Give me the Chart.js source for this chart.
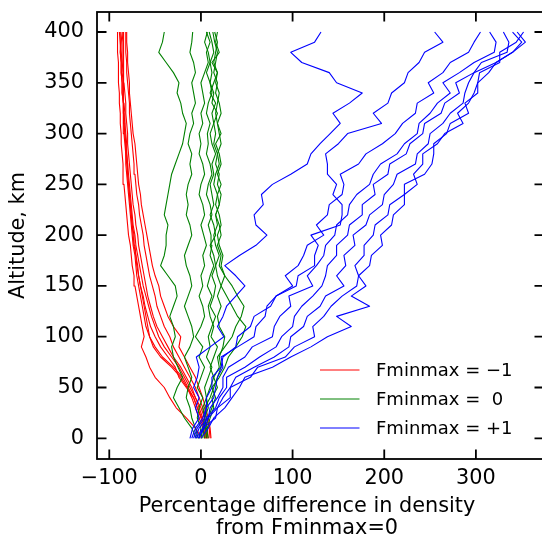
<!DOCTYPE html>
<html lang="en">
<head>
<meta charset="utf-8">
<title>Density difference vs altitude</title>
<script src="https://cdn.jsdelivr.net/npm/chart.js@4.4.0/dist/chart.umd.min.js"></script>
<style>
  body { margin: 0; background: #fff; }
  #wrap { width: 542px; height: 538px; overflow: hidden; }
</style>
</head>
<body>
<div id="wrap"><canvas id="c" width="546" height="538"></canvas></div>
<script>
// altitude levels (km), shared by every run
const altitudes = [0,10,20,30,40,50,60,70,80,90,100,110,120,130,140,150,160,170,180,190,
  200,210,220,230,240,250,260,270,280,290,300,310,320,330,340,350,360,370,380,390,400];

const xTicks = [-100, 0, 100, 200, 300];
const yTicks = [0, 50, 100, 150, 200, 250, 300, 350, 400];

const legendLabels = ['Fminmax = \u22121', 'Fminmax =  0', 'Fminmax = +1'];

// percentage difference in density, one array per run, bottom to top
const runsMinus1 = [
  [1,-6,-16,-27,-34,-40,-50,-56,-60,-65,-62,-64,-66,-68,-70,-72,-73,-75,-76,-77,-79,-80,-81,-82,-83,-84,-85,-85,-86,-87,-87,-88,-88,-89,-89,-90,-90,-90,-91,-91,-91],
  [5,3,0,-4,-8,-14,-20,-30,-42,-50,-56,-60,-62,-64,-66,-68,-70,-71,-72,-74,-75,-76,-77,-78,-79,-80,-81,-82,-82,-83,-84,-84,-85,-85,-86,-86,-87,-87,-88,-88,-89],
  [8,7,4,0,-6,-10,-16,-22,-30,-36,-42,-48,-52,-55,-58,-60,-62,-64,-66,-68,-69,-71,-72,-74,-75,-76,-77,-78,-79,-80,-80,-81,-82,-82,-83,-84,-84,-84,-85,-85,-84],
  [10,9,6,2,-2,-6,-12,-18,-24,-30,-34,-40,-44,-48,-50,-53,-56,-58,-60,-62,-63,-65,-67,-68,-70,-71,-72,-73,-74,-75,-76,-77,-78,-78,-79,-80,-81,-81,-82,-82,-82],
  [11,10,8,5,2,-2,-6,-12,-18,-24,-22,-30,-36,-40,-44,-46,-50,-53,-55,-57,-59,-61,-63,-65,-66,-68,-69,-70,-71,-72,-74,-75,-76,-77,-78,-78,-79,-80,-80,-81,-81],
  [7,5,2,-2,-6,-12,-18,-24,-32,-40,-46,-50,-54,-57,-60,-63,-65,-67,-69,-71,-72,-74,-75,-76,-77,-78,-79,-80,-81,-81,-82,-83,-83,-84,-84,-85,-85,-86,-86,-86,-85],
  [6,4,1,-4,-8,-16,-24,-28,-36,-44,-50,-55,-58,-61,-63,-66,-68,-70,-71,-73,-74,-75,-76,-77,-78,-79,-80,-81,-82,-82,-83,-84,-84,-85,-86,-86,-87,-87,-88,-87,-86],
  [4,2,-2,-6,-10,-15,-22,-32,-44,-52,-56,-58,-60,-62,-64,-66,-68,-69,-71,-72,-73,-75,-76,-77,-78,-79,-80,-80,-81,-82,-83,-83,-84,-84,-85,-85,-86,-86,-87,-88,-88]
];

const runsZero = [
  [-5,-10,-18,-24,-30,-26,-20,-25,-30,-32,-28,-30,-34,-30,-26,-28,-36,-44,-40,-38,-38,-36,-40,-38,-36,-34,-32,-28,-24,-20,-18,-16,-20,-22,-26,-24,-30,-38,-46,-42,-40],
  [-3,-6,-10,-12,-16,-14,-10,-14,-18,-12,-8,-10,-14,-18,-14,-10,-12,-16,-18,-14,-10,-12,-16,-14,-16,-14,-10,-12,-10,-14,-12,-8,-10,-6,-8,-10,-6,-8,-12,-10,-9],
  [-2,0,-4,-2,2,-4,0,4,-2,2,-6,0,4,2,-2,2,0,4,2,6,3,0,4,2,-2,0,4,2,-2,0,-2,2,0,4,2,0,4,8,6,10,6],
  [0,2,4,8,6,10,14,10,14,18,11,14,10,8,12,7,10,14,10,12,11,8,12,10,6,8,12,10,6,8,7,10,6,8,12,10,6,10,8,4,7],
  [2,3,6,4,10,14,18,22,20,24,26,20,18,22,18,22,18,16,20,16,14,18,16,20,18,14,16,20,18,14,16,14,18,12,14,10,12,10,14,12,9],
  [4,5,8,12,16,12,20,26,30,38,45,49,40,34,28,22,26,20,22,18,22,20,16,20,22,18,20,16,18,22,20,18,22,20,16,18,14,16,18,15,13],
  [6,7,10,14,12,18,14,20,18,26,34,38,44,47,40,34,26,22,24,20,18,22,20,16,18,22,18,22,20,16,22,18,16,18,20,16,18,14,16,18,15],
  [8,6,4,2,6,4,8,12,6,10,8,12,16,10,14,16,12,16,14,10,16,14,10,14,12,10,14,12,16,12,10,14,12,16,10,14,18,12,20,16,18]
];

const runsPlus1 = [
  [-12,-9,-2,-6,-2,-8,-4,-2,-5,10,25,18,24,28,38,48,38,26,42,60,72,60,58,68,66,78,98,116,120,130,141,152,144,162,176,148,140,110,98,124,131],
  [-10,-6,2,6,6,12,12,22,24,38,40,54,58,76,82,104,106,124,124,128,120,152,154,154,144,148,138,138,136,150,160,197,188,204,208,222,226,238,244,264,255],
  [-8,-4,4,6,14,16,18,24,22,40,58,60,70,72,82,100,92,106,112,116,134,126,138,140,154,156,152,172,180,198,212,220,234,236,254,248,264,272,292,298,305],
  [-6,-2,8,10,18,24,24,30,48,56,78,80,86,98,96,122,116,126,134,136,146,148,160,162,170,184,188,196,214,222,236,238,250,258,272,264,282,298,320,322,315],
  [-5,2,6,16,20,28,28,48,64,82,88,100,102,110,122,132,136,138,148,148,160,162,176,176,190,188,204,206,224,228,242,244,262,266,282,278,298,306,334,336,330],
  [-3,4,8,18,24,32,38,58,80,96,98,112,116,130,136,156,148,158,156,168,166,180,184,198,200,210,214,234,236,248,250,264,272,286,288,292,298,322,340,354,345],
  [-2,2,16,18,32,32,54,62,92,102,124,122,134,142,154,170,172,168,178,178,188,190,204,206,222,222,244,252,254,254,268,272,292,288,302,302,314,322,340,350,340],
  [0,8,14,26,34,42,48,78,98,120,138,164,148,184,164,180,172,184,186,198,196,208,210,222,222,236,232,242,242,258,266,286,280,292,298,302,304,326,326,344,352]
];

const groupColors = ['#ff0000', '#008000', '#0000ff'];
const FONT = 'DejaVu Sans';

function toPoints(run) {
  return run.map(function (v, i) { return { x: v, y: altitudes[i] }; });
}

const datasets = [];
[runsMinus1, runsZero, runsPlus1].forEach(function (runs, g) {
  runs.forEach(function (run, i) {
    datasets.push({
      label: legendLabels[g],
      data: toPoints(run),
      borderColor: groupColors[g],
      borderWidth: 1.1,
      pointRadius: 0,
      tension: 0,
      fill: false,
      order: 3 - g
    });
  });
});

// frame, inward ticks on all sides, legend and the x axis title
const decorations = {
  id: 'decorations',
  afterDatasetsDraw(chart) {
    const ctx = chart.ctx;
    const a = chart.chartArea;
    const xs = chart.scales.x, ys = chart.scales.y;
    ctx.save();
    ctx.strokeStyle = '#000';
    ctx.lineWidth = 1.8;
    ctx.strokeRect(a.left, a.top, a.right - a.left, a.bottom - a.top);
    const len = 9.5;
    ctx.beginPath();
    xs.ticks.forEach(function (t) {
      const px = xs.getPixelForValue(t.value);
      ctx.moveTo(px, a.bottom); ctx.lineTo(px, a.bottom - len);
      ctx.moveTo(px, a.top); ctx.lineTo(px, a.top + len);
    });
    ys.ticks.forEach(function (t) {
      const py = ys.getPixelForValue(t.value);
      ctx.moveTo(a.left, py); ctx.lineTo(a.left + len, py);
      ctx.moveTo(a.right, py); ctx.lineTo(a.right - len, py);
    });
    ctx.stroke();

    // legend
    ctx.font = '18px "' + FONT + '"';
    ctx.textBaseline = 'middle';
    ctx.textAlign = 'left';
    legendLabels.forEach(function (lab, g) {
      const yy = 370 + g * 29;
      ctx.strokeStyle = groupColors[g];
      ctx.lineWidth = 1;
      ctx.beginPath();
      ctx.moveTo(320, yy); ctx.lineTo(359.5, yy);
      ctx.stroke();
      ctx.fillStyle = '#000';
      ctx.fillText(lab, 376, yy + 1);
    });

    // x axis title
    ctx.font = '20.8px "' + FONT + '"';
    ctx.textAlign = 'center';
    ctx.textBaseline = 'alphabetic';
    ctx.fillText('Percentage difference in density', 307, 512);
    ctx.fillText('from Fminmax=0', 307, 534);
    ctx.restore();
  }
};

const tickFont = { family: FONT, size: 20.8 };

new Chart(document.getElementById('c'), {
  type: 'line',
  data: { datasets: datasets },
  options: {
    responsive: false,
    animation: false,
    devicePixelRatio: 1,
    layout: { padding: { left: 0, top: 12, right: 2, bottom: 0 } },
    plugins: { legend: { display: false }, tooltip: { enabled: false } },
    elements: { line: { borderJoinStyle: 'round' } },
    scales: {
      x: {
        type: 'linear',
        min: -113.4,
        max: 374.3,
        border: { display: false },
        grid: { display: false, drawTicks: false },
        afterBuildTicks: function (s) { s.ticks = xTicks.map(function (v) { return { value: v }; }); },
        afterFit: function (s) { s.height = 79; s.paddingLeft = 0; s.paddingRight = 0; },
        ticks: {
          font: tickFont,
          color: '#000',
          padding: 7,
          maxRotation: 0,
          callback: function (v) { return v < 0 ? '\u2212' + Math.abs(v) : String(v); }
        }
      },
      y: {
        type: 'linear',
        min: -20.4,
        max: 419.7,
        border: { display: false },
        grid: { display: false, drawTicks: false },
        afterBuildTicks: function (s) { s.ticks = yTicks.map(function (v) { return { value: v }; }); },
        afterFit: function (s) { s.width = 97; s.paddingTop = 0; s.paddingBottom = 0; },
        ticks: { font: tickFont, color: '#000', padding: 13 },
        title: {
          display: true,
          text: 'Altitude, km',
          font: tickFont,
          color: '#000',
          padding: { top: 6, bottom: 0 }
        }
      }
    }
  },
  plugins: [decorations]
});
</script>
</body>
</html>
